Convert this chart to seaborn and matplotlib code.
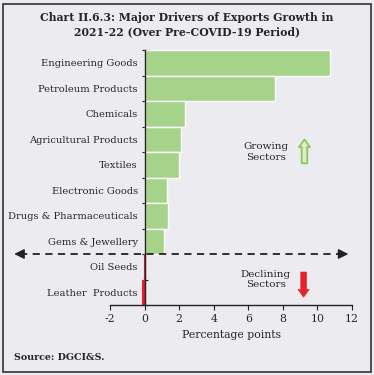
import matplotlib
matplotlib.use("Agg")
import matplotlib.pyplot as plt
import seaborn as sns
import pandas as pd
from matplotlib.patches import Rectangle

sectors = ["Engineering Goods", "Petroleum Products", "Chemicals", "Agricultural Products",
           "Textiles", "Electronic Goods", "Drugs & Pharmaceuticals", "Gems & Jewellery",
           "Oil Seeds", "Leather  Products"]
values = [10.7, 7.55, 2.35, 2.1, 2.0, 1.3, 1.35, 1.1, -0.06, -0.15]
xticks = [-2, 0, 2, 4, 6, 8, 10, 12]

BG = "#ECECF0"
GREEN = "#A6D38A"
RED = "#E8202A"

df = pd.DataFrame({"sector": sectors, "value": values})
df["kind"] = ["up" if v >= 0 else "down" for v in values]

sns.set_style("white")
plt.rcParams["font.family"] = ["DejaVu Serif"]

fig = plt.figure(figsize=(3.74, 3.75), dpi=100, facecolor=BG)
ax = fig.add_axes([110/374, 1-305/375, 242/374, 255/375])
ax.set_facecolor(BG)

sns.barplot(data=df, y="sector", x="value", hue="kind", order=sectors,
            palette={"up": GREEN, "down": RED}, orient="h", width=1.0, saturation=1,
            edgecolor="white", linewidth=1.0, legend=False, ax=ax, dodge=False)
for p in ax.patches:
    if p.get_width() < 0:
        p.set_edgecolor(RED)
        p.set_linewidth(0.8)

for s in ["top", "right"]:
    ax.spines[s].set_visible(False)
ax.spines["left"].set_position(("data", 0))
ax.spines["left"].set_color("#222222")
ax.spines["bottom"].set_color("#222222")
ax.spines["left"].set_linewidth(1.0)
ax.spines["bottom"].set_linewidth(1.0)

ax.set_xlim(-2, 12)
ax.set_ylim(len(sectors)-0.5, -0.5)
ax.set_xticks(xticks)
ax.set_xticklabels([str(t) for t in xticks])
ax.set_yticks(range(len(sectors)))
ax.set_yticklabels(sectors)
ax.set_yticks([i - 0.5 for i in range(len(sectors)+1)], minor=True)
ax.tick_params(axis="y", which="major", length=0, pad=5, labelsize=7.1)
ax.tick_params(axis="y", which="minor", length=4, width=0.8, direction="inout", left=True,
               color="#222222")
ax.tick_params(axis="x", length=3.5, width=0.8, direction="out", pad=3, bottom=True,
               labelsize=7.8, color="#222222")
ax.set_xlabel("Percentage points", fontsize=7.8, labelpad=4)
ax.set_ylabel("")

# dashed divider with arrow heads
ax.plot([-7.2, 11.5], [7.5, 7.5], ls=(0, (4, 3)), color="#222222", lw=1.3, clip_on=False)
ax.annotate("", xy=(-7.7, 7.5), xytext=(-7.0, 7.5), annotation_clip=False,
            arrowprops=dict(arrowstyle="-|>,head_length=0.6,head_width=0.3", color="#222222", lw=1))
ax.annotate("", xy=(11.95, 7.5), xytext=(11.3, 7.5), annotation_clip=False,
            arrowprops=dict(arrowstyle="-|>,head_length=0.6,head_width=0.3", color="#222222", lw=1))

ax.text(7.0, 3.5, "Growing\nSectors", ha="center", va="center", fontsize=7.5, linespacing=1.25)
ax.annotate("", xy=(9.25, 2.9), xytext=(9.25, 4.05),
            arrowprops=dict(arrowstyle="simple,head_length=0.55,head_width=0.8,tail_width=0.4",
                            facecolor="#D9EEC9", edgecolor="#8CC65E", lw=1.3))
ax.text(7.0, 8.5, "Declining\nSectors", ha="center", va="center", fontsize=7.5, linespacing=1.25)
ax.annotate("", xy=(9.2, 9.3), xytext=(9.2, 8.1),
            arrowprops=dict(arrowstyle="simple,head_length=0.55,head_width=0.8,tail_width=0.4",
                            facecolor=RED, edgecolor=RED, lw=0.5))

fig.text(0.5, 1-25/375, "Chart II.6.3: Major Drivers of Exports Growth in\n2021-22 (Over Pre-COVID-19 Period)",
         ha="center", va="center", fontsize=7.8, fontweight="bold", linespacing=1.35)
fig.text(14/374, 1-358/375, "Source: DGCI&S.", ha="left", va="center", fontsize=6.8, fontweight="bold")

fig.patches.append(Rectangle((3/374, 3/375), 368/374, 368/375, transform=fig.transFigure,
                             fill=False, edgecolor="#333333", lw=1.2))

fig.savefig("out.png", dpi=100, facecolor=BG)
